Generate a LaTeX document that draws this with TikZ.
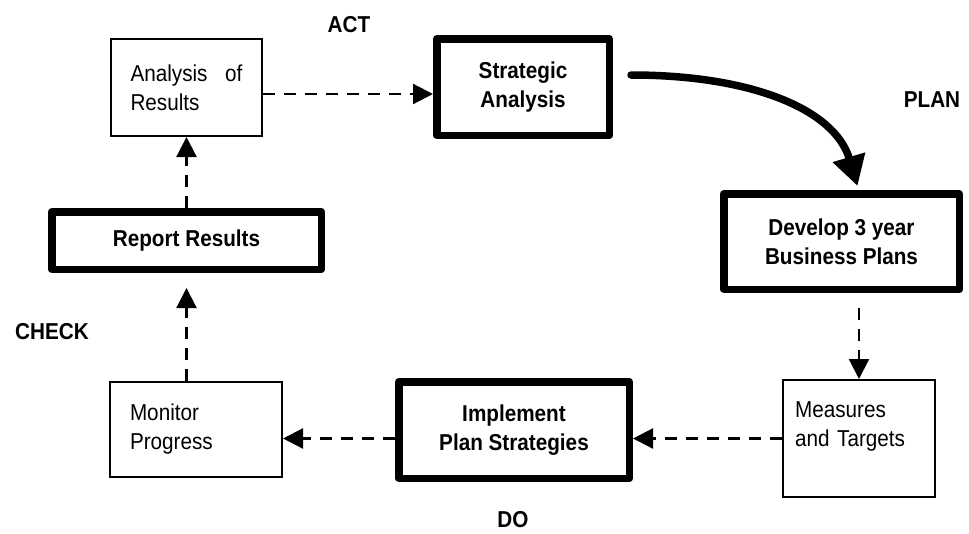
\documentclass[tikz,border=0pt]{standalone}
\usepackage{fontspec}
\setmainfont{Liberation Sans}[FakeStretch=0.9]
\usetikzlibrary{arrows.meta,positioning}

\begin{document}
\begin{tikzpicture}[x=1pt,y=-1pt,
    every node/.style={font=\fontsize{23}{29}\selectfont},
    thinbox/.style={draw,line width=2pt,inner sep=0pt,align=left},
    thickbox/.style={draw,line width=7.5pt,line join=round,inner sep=0pt,
      align=center,font=\fontsize{23}{29}\selectfont\bfseries},
    phase/.style={font=\fontsize{23}{29}\selectfont\bfseries},
    dasharrow/.style={line width=2.2pt,dash pattern=on 12pt off 9pt,
      -{Triangle[length=20pt,width=20pt]}}]
  \useasboundingbox (0,0) rectangle (969,533);
  % Boxes of the cycle
  \node[thinbox,minimum width=151pt,minimum height=97pt,text width=112pt]
    (ana) at (186.5,87.5) {Analysis\hfill of\\Results};
  \node[thickbox,minimum width=172.5pt,minimum height=96.5pt]
    (strat) at (523,87) {Strategic\\Analysis};
  \node[thickbox,minimum width=235.5pt,minimum height=95.5pt]
    (dev) at (841.5,241.5) {Develop 3 year\\Business Plans};
  \node[thinbox,minimum width=152pt,minimum height=117pt,text width=128pt]
    (meas) at (859,438.5) {Measures\\and Targets\\\mbox{}};
  \node[thickbox,minimum width=230.5pt,minimum height=96.5pt]
    (impl) at (514,430) {Implement\\Plan Strategies};
  \node[thinbox,minimum width=172pt,minimum height=95pt,text width=132pt]
    (mon) at (196,429.5) {Monitor\\Progress};
  \node[thickbox,minimum width=269.5pt,minimum height=57.5pt]
    (rep) at (186.5,240.5) {Report Results};
  % Phase labels
  \node[phase] (act) at (349,25) {ACT};
  \node[phase] (plan) at (932,100) {PLAN};
  \node[phase] (check) at (52,332) {CHECK};
  \node[phase] (do) at (513,520) {DO};
  % Dashed links
  \draw[dasharrow] ([yshift=-6.5pt]ana.east) -- ([yshift=-6.5pt]ana.east -| strat.west);
  \draw[dasharrow,shorten <=15pt] (dev.south -| meas.north) -- (meas.north);
  \draw[dasharrow] (meas.west) -- (meas.west -| impl.east);
  \draw[dasharrow] (meas.west -| impl.west) -- (meas.west -| mon.east);
  \draw[dasharrow,shorten >=15pt] (mon.north -| rep.south) -- (rep.south);
  \draw[dasharrow] (rep.north) -- (rep.north |- ana.south);
  % Plan arrow
  \draw[line width=7.5pt,line cap=round,-{Triangle[length=30pt,width=32pt]}]
    ([xshift=18pt,yshift=12pt]strat.east) .. controls +(120,0) and +(-23,-77)
    .. ([xshift=16pt,yshift=4pt]dev.north);
\end{tikzpicture}
\end{document}
